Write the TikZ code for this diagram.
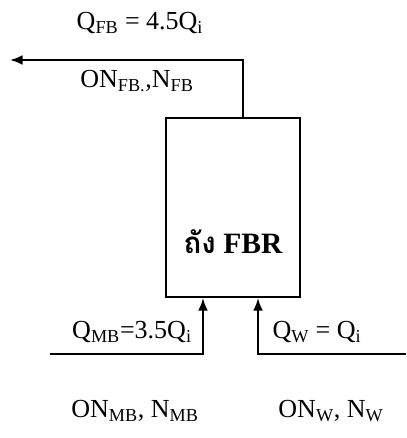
\documentclass[tikz,border=0pt]{standalone}
\usepackage{fontspec}
\setmainfont{Liberation Serif}
\newfontfamily\thaifont[Script=Thai]{Loma}
\usetikzlibrary{arrows.meta,positioning}

\begin{document}
\begin{tikzpicture}[x=0.025cm,y=0.025cm,
    tank/.style={draw,line width=1.4pt,minimum width=3.35cm,minimum height=4.475cm},
    flow/.style={line width=1.4pt,-{Latex[length=9pt,width=7pt]}},
    lbl/.style={font=\fontsize{18.5}{22}\selectfont,inner sep=1pt}]
    \useasboundingbox (0,0) rectangle (406,438);
    \node[tank] (fbr) at (233,230.5) {};
    \node (fbrtxt) at (233,196) {\fontsize{21}{24}\selectfont\bfseries{\thaifont ถัง} FBR};
    % streams
    \coordinate (fbout) at (10,378);
    \coordinate (mbin)  at (50,84);
    \coordinate (win)   at (406,84);
    \draw[flow] ([xshift=0.25cm]fbr.north) |- (fbout);
    \draw[flow] (mbin) -| ([xshift=-0.75cm]fbr.south);
    \draw[flow] (win) -| ([xshift=0.625cm]fbr.south);
    % labels
    \node[lbl] (qfb)  at (140,415) {Q\textsubscript{FB} = 4.5Q\textsubscript{i}};
    \node[lbl] (onfb) at (137,357) {ON\textsubscript{FB.},N\textsubscript{FB}};
    \node[lbl] (qmb)  at (132,106) {Q\textsubscript{MB}=3.5Q\textsubscript{i}};
    \node[lbl] (qw)   at (317,106) {Q\textsubscript{W} = Q\textsubscript{i}};
    \node[lbl] (onmb) at (135,27)  {ON\textsubscript{MB}, N\textsubscript{MB}};
    \node[lbl] (onw)  at (331,27)  {ON\textsubscript{W}, N\textsubscript{W}};
\end{tikzpicture}
\end{document}
